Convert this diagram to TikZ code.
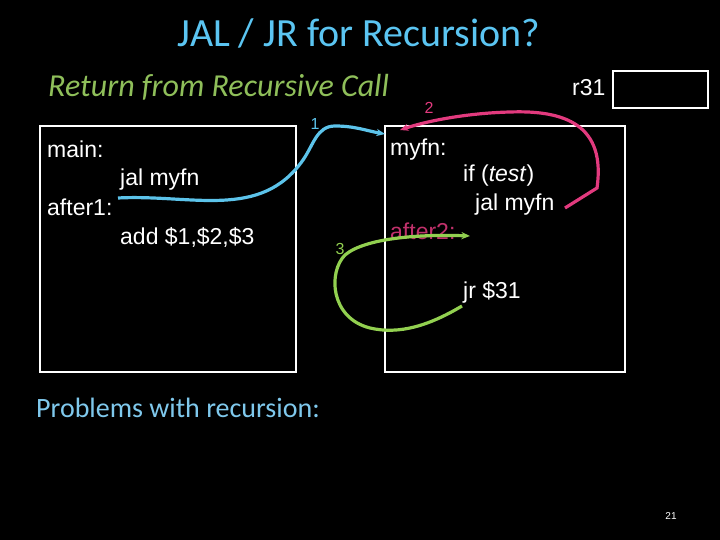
\documentclass[tikz,border=0pt]{standalone}
\usepackage{fontspec}
\setmainfont{Liberation Sans}
\newfontfamily\slidefont{Carlito}
\definecolor{titleblue}{HTML}{5BC5F2}
\definecolor{subgreen}{HTML}{8FBF5A}
\definecolor{callcyan}{HTML}{5CC3EA}
\definecolor{retpink}{HTML}{E23A7E}
\definecolor{jrgreen}{HTML}{92D050}
\definecolor{probblue}{HTML}{7FC8EC}
\usetikzlibrary{arrows.meta, positioning}
\tikzset{
  code/.style={text=white, font=\fontsize{23}{27}\selectfont, inner sep=0pt, anchor=base west},
  frame/.style={draw=white, line width=1.2pt, inner sep=0pt},
  step1/.style={-{Stealth[length=3mm,width=2.5mm]}, line width=3.2pt, color=callcyan},
  step2/.style={-{Stealth[length=3mm,width=2.5mm]}, line width=3.2pt, color=retpink},
  step3/.style={-{Stealth[length=3mm,width=2.5mm]}, line width=3.2pt, color=jrgreen},
  num/.style={font=\fontsize{16}{18}\selectfont, inner sep=0pt},
}

\begin{document}
\begin{tikzpicture}[x=1pt,y=-1pt]
\fill[black] (0,0) rectangle (720,540);
\useasboundingbox (0,0) rectangle (720,540);

\node[text=titleblue,font=\slidefont\fontsize{40}{46}\selectfont,inner sep=0pt,anchor=base] (title) at (359,47) {JAL / JR for Recursion?};
\node[text=subgreen,font=\slidefont\itshape\fontsize{32}{36}\selectfont,inner sep=0pt,anchor=base west] (sub) at (48,97) {Return from Recursive Call};

% registers and frames
\node[code] (r31) at (572,96) {r31};
\node[frame,minimum width=95pt,minimum height=37pt] (reg) at (660.5,89.5) {};
\node[frame,minimum width=256pt,minimum height=246pt] (mainbox) at (168,249) {};
\node[frame,minimum width=240pt,minimum height=246pt] (fnbox) at (505,249) {};

% caller
\node[code] (main) at (47,158) {main:};
\node[code] (jal1) at (120,186) {jal myfn};
\node[code] (after1) at (47,215) {after1:};
\node[code] (add) at (120,244) {add \$1,\$2,\$3};

% callee
\node[code] (myfn) at (390,156) {myfn:};
\node[code] (iftest) at (463,182) {if (\textit{test})};
\node[code] (jal2) at (475,211) {jal myfn};
\node[code,text=retpink!85!black] (after2) at (390,240) {after2:};
\node[code] (jr) at (463,298) {jr \$31};

\node[text=probblue,font=\slidefont\fontsize{28}{32}\selectfont,inner sep=0pt,anchor=base west] (prob) at (36,417) {Problems with recursion:};
\node[text=white,font=\fontsize{10}{12}\selectfont,inner sep=0pt,anchor=base] (page) at (671,519) {21};

% call / return paths
\coordinate (s1) at (118,198);
\coordinate (t1) at (385,134);
\coordinate (s2) at (565,208);
\coordinate (t2) at (400,130);
\coordinate (s3) at (462,306);
\coordinate (t3) at (470,236);

\draw[step1] (s1) to[out=3,in=-125] (303,160) to[out=55,in=180] (335,126) to[out=0,in=170] (t1);
\draw[step2] (s2) -- (597,188) .. controls (606,125) and (565,110) .. (510,112) .. controls (470,113) and (430,120) .. (t2);
\draw[step3] (s3) .. controls (430,325) and (400,335) .. (370,328) .. controls (330,318) and (328,272) .. (345,255) .. controls (365,238) and (420,234) .. (t3);

\node[num,text=callcyan] (n1) at (315,124) {1};
\node[num,text=retpink] (n2) at (429,108) {2};
\node[num,text=jrgreen] (n3) at (340,249) {3};
\end{tikzpicture}
\end{document}
